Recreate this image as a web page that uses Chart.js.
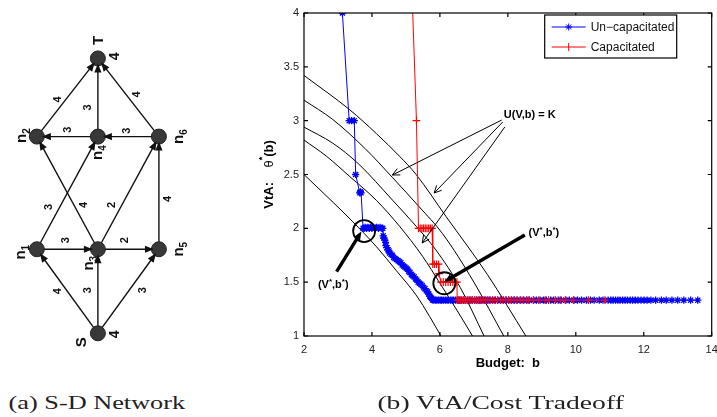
<!DOCTYPE html>
<html>
<head>
<meta charset="utf-8">
<script src="https://cdn.jsdelivr.net/npm/chart.js@4.4.1/dist/chart.umd.min.js"></script>
<style>
  html, body { margin: 0; padding: 0; background: #fff; width: 717px; height: 417px; overflow: hidden; }
  canvas { position: absolute; top: 0; }
  #net { left: 0; }
  #trade { left: 230px; }
  .cap { position: absolute; top: 392px; font-family: "Liberation Serif", serif; font-size: 19px; color: #222; white-space: nowrap; transform-origin: center; }
</style>
</head>
<body>
<canvas id="net" width="200" height="380"></canvas>
<canvas id="trade" width="487" height="417"></canvas>
<div class="cap" id="capA">(a) S-D Network</div>
<div class="cap" id="capB">(b) VtA/Cost Tradeoff</div>
<script>
// ---- (a) network: nodes on a column/row grid, directed edges with weights
const nodeNames = ['S', 'n1', 'n3', 'n5', 'n2', 'n4', 'n6', 'T'];
const nodeCol = [0, -1, 0, 1, -1, 0, 1, 0];
const nodeRow = [0, 1, 1, 1, 2.34, 2.34, 2.34, 3.27];
const nodeCapacity = { S: 4, T: 4 };
const edgeFrom = ['S', 'S', 'S', 'n1', 'n3', 'n1', 'n3', 'n3', 'n5', 'n4', 'n6', 'n2', 'n4', 'n6'];
const edgeTo = ['n1', 'n3', 'n5', 'n3', 'n5', 'n4', 'n2', 'n6', 'n6', 'n2', 'n4', 'T', 'T', 'T'];
const edgeWeight = [4, 3, 3, 3, 2, 3, 4, 2, 4, 3, 3, 4, 3, 4];

// ---- (b) VtA / budget tradeoff
const blueSeries = [
  [3.13, 4.0], [3.33, 3.0], [3.40, 3.0], [3.48, 3.0], [3.52, 2.5], [3.64, 2.33], [3.66, 2.34], [3.68, 2.33],
  [3.74, 2.0], [3.77, 2.0], [3.80, 2.01], [3.84, 2.0], [3.88, 2.01], [3.92, 2.0], [3.96, 2.01], [4.00, 2.0],
  [4.04, 2.01], [4.09, 2.0], [4.14, 2.01], [4.19, 2.0], [4.24, 2.01], [4.29, 2.0], [4.32, 2.0],
  [4.33, 1.93], [4.35, 1.91], [4.38, 1.89], [4.40, 1.87], [4.41, 1.84], [4.44, 1.82], [4.47, 1.80], [4.50, 1.79],
  [4.52, 1.77], [4.56, 1.76], [4.60, 1.75], [4.64, 1.73], [4.68, 1.72], [4.72, 1.71], [4.77, 1.70], [4.81, 1.69],
  [4.85, 1.68], [4.89, 1.66], [4.93, 1.65], [4.97, 1.64], [5.01, 1.63], [5.05, 1.62], [5.08, 1.60], [5.12, 1.59],
  [5.16, 1.57], [5.20, 1.56], [5.24, 1.55], [5.28, 1.53], [5.32, 1.52], [5.36, 1.50], [5.40, 1.49], [5.44, 1.48],
  [5.48, 1.47], [5.52, 1.45], [5.56, 1.44], [5.60, 1.42], [5.64, 1.41], [5.67, 1.39], [5.70, 1.37], [5.73, 1.36],
  [5.76, 1.35], [5.78, 1.335],
  [5.82, 1.333], [5.87, 1.333], [5.91, 1.333], [5.96, 1.333], [6.01, 1.333], [6.05, 1.333], [6.10, 1.333], [6.16, 1.333],
  [6.21, 1.333], [6.25, 1.333], [6.31, 1.333], [6.36, 1.333], [6.40, 1.333], [6.46, 1.333], [6.52, 1.333], [6.57, 1.333],
  [6.63, 1.333], [6.70, 1.333], [6.75, 1.333], [6.82, 1.333], [6.88, 1.333], [6.95, 1.333], [7.03, 1.333], [7.09, 1.333],
  [7.16, 1.333], [7.23, 1.333], [7.31, 1.333], [7.39, 1.333], [7.45, 1.333], [7.55, 1.333], [7.63, 1.333], [7.70, 1.333],
  [7.79, 1.333], [7.87, 1.333], [7.95, 1.333], [8.03, 1.333], [8.11, 1.333], [8.20, 1.333], [8.27, 1.333], [8.38, 1.333],
  [8.47, 1.333], [8.56, 1.333], [8.63, 1.333], [8.75, 1.333], [8.84, 1.333], [8.95, 1.333], [9.05, 1.333], [9.13, 1.333],
  [9.26, 1.333], [9.35, 1.333], [9.48, 1.333], [9.57, 1.333], [9.71, 1.333], [9.81, 1.333], [9.95, 1.333], [10.05, 1.333],
  [10.17, 1.333], [10.31, 1.333], [10.43, 1.333], [10.54, 1.333], [10.69, 1.333], [10.80, 1.333], [10.95, 1.333], [11.03, 1.333],
  [11.10, 1.333], [11.17, 1.333], [11.24, 1.333], [11.30, 1.333], [11.38, 1.333], [11.45, 1.333], [11.52, 1.333], [11.60, 1.333],
  [11.67, 1.333], [11.75, 1.333], [11.83, 1.333], [11.92, 1.333], [12.01, 1.333], [12.10, 1.333], [12.21, 1.333], [12.35, 1.333],
  [12.52, 1.333], [12.66, 1.333], [12.83, 1.333], [13.00, 1.333], [13.18, 1.333], [13.38, 1.333], [13.59, 1.333]
];
const redSeries = [
  [5.09, 5.0], [5.31, 3.0], [5.37, 2.0], [5.42, 2.0], [5.47, 2.0], [5.52, 2.0], [5.57, 2.0], [5.62, 2.0],
  [5.67, 2.0], [5.72, 2.0], [5.77, 2.0], [5.79, 1.667], [5.84, 1.667], [5.90, 1.667], [5.96, 1.667], [5.97, 1.58],
  [6.03, 1.5], [6.10, 1.5], [6.17, 1.5], [6.24, 1.5], [6.31, 1.5], [6.38, 1.5], [6.45, 1.5], [6.50, 1.5],
  [6.51, 1.333], [6.55, 1.333], [6.60, 1.333], [6.65, 1.333], [6.70, 1.333], [6.75, 1.333], [6.80, 1.333], [6.86, 1.333],
  [6.91, 1.333], [6.96, 1.333], [7.02, 1.333], [7.08, 1.333], [7.14, 1.333], [7.20, 1.333], [7.27, 1.333], [7.34, 1.333],
  [7.41, 1.333], [7.48, 1.333], [7.55, 1.333], [7.62, 1.333], [7.70, 1.333], [7.78, 1.333], [7.86, 1.333], [7.94, 1.333],
  [8.02, 1.333], [8.10, 1.333], [8.18, 1.333], [8.27, 1.333], [8.36, 1.333], [8.45, 1.333], [8.55, 1.333], [8.62, 1.333],
  [8.76, 1.333], [8.91, 1.333], [9.10, 1.333], [9.20, 1.333], [9.40, 1.333], [9.54, 1.333], [9.69, 1.333], [9.93, 1.333],
  [10.37, 1.333], [10.86, 1.333]
];
// indifference curves U(V,b) = K
const levelK1 = [[2.00, 2.50], [2.86, 2.24], [3.44, 2.06], [4.13, 1.83], [4.71, 1.61], [5.30, 1.38], [5.70, 1.18], [6.03, 1.00]];
const levelK2 = [[2.00, 2.82], [2.66, 2.67], [3.35, 2.48], [4.13, 2.26], [4.81, 2.02], [5.49, 1.74], [6.00, 1.49], [6.50, 1.24], [6.96, 1.00]];
const levelK3 = [[2.00, 2.94], [2.85, 2.79], [3.60, 2.60], [4.61, 2.26], [5.30, 2.02], [5.88, 1.80], [6.60, 1.45], [7.30, 1.00]];
const levelK4 = [[2.00, 3.19], [2.85, 3.01], [3.80, 2.74], [4.61, 2.47], [5.39, 2.20], [6.08, 1.95], [7.00, 1.50], [7.88, 1.00]];
const levelK5 = [[2.00, 3.42], [3.35, 3.10], [4.13, 2.88], [4.81, 2.67], [5.30, 2.50], [6.18, 2.11], [7.40, 1.57], [8.53, 1.00]];

// annotation anchors, in (budget, VtA) units
const levelNote = [7.88, 3.053];
const levelPointerFrom = [[7.82, 3.006], [7.85, 2.988], [7.91, 2.941]];
const levelPointerTo = [[4.60, 2.495], [5.83, 2.328], [5.48, 1.864]];
const optimumAt = [[3.77, 1.975], [6.13, 1.49]];
const optimumPointerFrom = [[2.96, 1.597], [8.50, 1.938]];
const optimumPointerTo = [[3.69, 1.97], [6.13, 1.504]];
const optimumNote = [[2.41, 1.474], [8.61, 1.957]];

// layout nudges for the network labels (px)
const edgeLabelShift = [[-9, 0], [-10, -1], [15, -1], [-1, -9], [-3, -9], [-18, 14], [17, 12], [-16, 12], [9, 6], [1, -7], [-1, -6], [-9, 2], [-10, 10], [9, -3]];
const nodeLabelShift = { S: [-17, 9], n1: [-16, 3], n3: [-9, 14], n5: [20, 0], n2: [-15, -1], n4: [0, 16], n6: [20, 0], T: [0, -18] };
const capLabelShift = { S: [17, 1], T: [17, -2] };

const SANS = '"Liberation Sans", Arial, sans-serif';
const idx = n => nodeNames.indexOf(n);
const nodePt = n => ({ x: nodeCol[idx(n)], y: nodeRow[idx(n)] });
const toXY = arr => arr.map(([b, v]) => ({ x: b, y: v }));

function rotText(ctx, s, cx, cy, font) {
  ctx.save();
  ctx.translate(cx, cy);
  ctx.rotate(-Math.PI / 2);
  ctx.font = font;
  ctx.textAlign = 'center';
  ctx.textBaseline = 'middle';
  ctx.fillText(s, 0, 0);
  ctx.restore();
}

function rotNodeLabel(ctx, name, cx, cy) {
  const main = name[0], sub = name.slice(1);
  ctx.save();
  ctx.translate(cx, cy);
  ctx.rotate(-Math.PI / 2);
  ctx.textAlign = 'left';
  ctx.textBaseline = 'alphabetic';
  ctx.font = 'bold 15px ' + SANS;
  const w1 = ctx.measureText(main).width;
  ctx.font = 'bold 10px ' + SANS;
  const w2 = sub ? ctx.measureText(sub).width : 0;
  const x0 = -(w1 + w2) / 2;
  ctx.font = 'bold 15px ' + SANS;
  ctx.fillText(main, x0, sub ? 4 : 5.5);
  if (sub) {
    ctx.font = 'bold 10px ' + SANS;
    ctx.fillText(sub, x0 + w1, 8);
  }
  ctx.restore();
}

const netExtras = {
  id: 'netExtras',
  afterDatasetsDraw(chart) {
    const { ctx, scales: { x, y } } = chart;
    const px = n => [x.getPixelForValue(nodeCol[idx(n)]), y.getPixelForValue(nodeRow[idx(n)])];
    ctx.save();
    ctx.fillStyle = '#111';
    edgeFrom.forEach((f, i) => {
      const [x0, y0] = px(f), [x1, y1] = px(edgeTo[i]);
      const len = Math.hypot(x1 - x0, y1 - y0), ux = (x1 - x0) / len, uy = (y1 - y0) / len;
      const tx = x1 - ux * 5, ty = y1 - uy * 5;
      const bx = tx - ux * 9, by = ty - uy * 9;
      ctx.beginPath();
      ctx.moveTo(tx, ty);
      ctx.lineTo(bx - uy * 3.6, by + ux * 3.6);
      ctx.lineTo(bx + uy * 3.6, by - ux * 3.6);
      ctx.closePath();
      ctx.fill();
      const [dx, dy] = edgeLabelShift[i];
      rotText(ctx, String(edgeWeight[i]), (x0 + x1) / 2 + dx, (y0 + y1) / 2 + dy, 'bold 11px ' + SANS);
    });
    nodeNames.forEach(n => {
      const [cx, cy] = px(n);
      const [dx, dy] = nodeLabelShift[n];
      rotNodeLabel(ctx, n, cx + dx, cy + dy);
      if (nodeCapacity[n] !== undefined) {
        const [ex, ey] = capLabelShift[n];
        rotText(ctx, String(nodeCapacity[n]), cx + ex, cy + ey, 'bold 14px ' + SANS);
      }
    });
    ctx.restore();
  }
};

new Chart(document.getElementById('net'), {
  type: 'scatter',
  data: {
    datasets: [
      {
        data: nodeNames.map(nodePt), pointRadius: 7.5, pointHoverRadius: 7.5,
        backgroundColor: '#383838', borderColor: '#222', borderWidth: 1, order: 0
      },
      ...edgeFrom.map((f, i) => ({
        data: [nodePt(f), nodePt(edgeTo[i])], showLine: true, pointRadius: 0,
        borderColor: '#111', borderWidth: 1.4, order: 1
      }))
    ]
  },
  options: {
    responsive: false, animation: false, devicePixelRatio: 1, events: [],
    layout: { padding: 0 },
    plugins: { legend: { display: false }, tooltip: { enabled: false } },
    scales: {
      x: { type: 'linear', min: -1.465, max: 1.534, display: false },
      y: { type: 'linear', min: -0.4545, max: 3.864, display: false }
    }
  },
  plugins: [netExtras]
});

function drawStar(ctx, x, y, r) {
  ctx.beginPath();
  for (let k = 0; k < 4; k++) {
    const a = k * Math.PI / 4;
    ctx.moveTo(x - Math.cos(a) * r, y - Math.sin(a) * r);
    ctx.lineTo(x + Math.cos(a) * r, y + Math.sin(a) * r);
  }
  ctx.stroke();
}

function drawRich(ctx, parts, x, y) {
  // parts: [text, font, raise]
  let cx = x;
  parts.forEach(([t, f, r]) => {
    ctx.font = f;
    ctx.fillText(t, cx, y - r);
    cx += ctx.measureText(t).width;
  });
}
function richWidth(ctx, parts) {
  return parts.reduce((w, [t, f]) => { ctx.font = f; return w + ctx.measureText(t).width; }, 0);
}

const tradeExtras = {
  id: 'tradeExtras',
  afterDatasetsDraw(chart) {
    const { ctx, chartArea: a, scales: { x, y } } = chart;
    const P = ([b, v]) => [x.getPixelForValue(b), y.getPixelForValue(v)];
    ctx.save();
    ctx.strokeStyle = '#000';
    ctx.fillStyle = '#000';

    // frame with inward ticks
    ctx.lineWidth = 1.2;
    ctx.strokeRect(a.left, a.top, a.right - a.left, a.bottom - a.top);
    ctx.beginPath();
    x.ticks.forEach(t => {
      const p = x.getPixelForValue(t.value);
      ctx.moveTo(p, a.bottom); ctx.lineTo(p, a.bottom - 4);
      ctx.moveTo(p, a.top); ctx.lineTo(p, a.top + 4);
    });
    y.ticks.forEach(t => {
      const p = y.getPixelForValue(t.value);
      ctx.moveTo(a.left, p); ctx.lineTo(a.left + 4, p);
      ctx.moveTo(a.right, p); ctx.lineTo(a.right - 4, p);
    });
    ctx.stroke();

    // thin pointers to the level curves
    ctx.lineWidth = 1;
    levelPointerFrom.forEach((f, i) => {
      const [x0, y0] = P(f), [x1, y1] = P(levelPointerTo[i]);
      const ang = Math.atan2(y1 - y0, x1 - x0);
      ctx.beginPath();
      ctx.moveTo(x0, y0); ctx.lineTo(x1, y1);
      ctx.moveTo(x1 - 8 * Math.cos(ang - 0.45), y1 - 8 * Math.sin(ang - 0.45));
      ctx.lineTo(x1, y1);
      ctx.lineTo(x1 - 8 * Math.cos(ang + 0.45), y1 - 8 * Math.sin(ang + 0.45));
      ctx.stroke();
    });
    ctx.font = 'bold 11px ' + SANS;
    ctx.textAlign = 'left';
    ctx.textBaseline = 'middle';
    const [nx, ny] = P(levelNote);
    ctx.fillText('U(V,b) = K', nx, ny);

    // optimum circles and thick pointers
    ctx.lineWidth = 1.8;
    optimumAt.forEach(c => {
      const [cx, cy] = P(c);
      ctx.beginPath(); ctx.arc(cx, cy, 11, 0, Math.PI * 2); ctx.stroke();
    });
    optimumPointerFrom.forEach((f, i) => {
      const [x0, y0] = P(f), [x1, y1] = P(optimumPointerTo[i]);
      const ang = Math.atan2(y1 - y0, x1 - x0);
      ctx.lineWidth = 3.4;
      ctx.beginPath();
      ctx.moveTo(x0, y0);
      ctx.lineTo(x1 - 6 * Math.cos(ang), y1 - 6 * Math.sin(ang));
      ctx.stroke();
      ctx.beginPath();
      ctx.moveTo(x1, y1);
      ctx.lineTo(x1 - 9 * Math.cos(ang - 0.4), y1 - 9 * Math.sin(ang - 0.4));
      ctx.lineTo(x1 - 9 * Math.cos(ang + 0.4), y1 - 9 * Math.sin(ang + 0.4));
      ctx.closePath();
      ctx.fill();
    });
    const vb = [['(V', 'bold 11px ' + SANS, 0], ['*', 'bold 8px ' + SANS, 3], [',b', 'bold 11px ' + SANS, 0], ['*', 'bold 8px ' + SANS, 3], [')', 'bold 11px ' + SANS, 0]];
    ctx.textBaseline = 'middle';
    optimumNote.forEach(n => {
      const [tx, ty] = P(n);
      drawRich(ctx, vb, tx, ty);
    });

    // legend box
    const lw = 132, lh = 43;
    const lx = a.right - 35 - lw, ly = a.top + 2;
    ctx.fillStyle = '#fff';
    ctx.fillRect(lx, ly, lw, lh);
    ctx.lineWidth = 1.2;
    ctx.strokeStyle = '#000';
    ctx.strokeRect(lx, ly, lw, lh);
    const items = [
      { text: 'Un\u2212capacitated', color: '#0000ff', star: true },
      { text: 'Capacitated', color: '#ff0000', star: false }
    ];
    items.forEach((it, i) => {
      const yy = ly + 12 + i * 20;
      ctx.strokeStyle = it.color;
      ctx.lineWidth = 1;
      ctx.beginPath(); ctx.moveTo(lx + 7, yy); ctx.lineTo(lx + 41, yy); ctx.stroke();
      if (it.star) drawStar(ctx, lx + 24, yy, 3.5);
      else { ctx.beginPath(); ctx.moveTo(lx + 24, yy - 4); ctx.lineTo(lx + 24, yy + 4); ctx.stroke(); }
      ctx.fillStyle = '#111';
      ctx.font = '12px ' + SANS;
      ctx.textAlign = 'left';
      ctx.textBaseline = 'middle';
      ctx.fillText(it.text, lx + 46, yy + 0.5);
    });

    // axis titles
    ctx.fillStyle = '#000';
    ctx.font = 'bold 13px ' + SANS;
    ctx.textAlign = 'center';
    ctx.textBaseline = 'middle';
    ctx.fillText('Budget:  b', (a.left + a.right) / 2, a.bottom + 27);
    const yt = [['VtA:', 'bold 13px ' + SANS, 0], ['    ', 'bold 13px ' + SANS, 0], ['\u03b8', '13px ' + SANS, 0], ['*', 'bold 9px ' + SANS, 6], ['(b)', 'bold 13px ' + SANS, 0]];
    ctx.save();
    ctx.translate(a.left - 35, (a.top + a.bottom) / 2);
    ctx.rotate(-Math.PI / 2);
    ctx.textAlign = 'left';
    drawRich(ctx, yt, -richWidth(ctx, yt) / 2, 0);
    ctx.restore();
    ctx.restore();
  }
};

const levelSets = [levelK1, levelK2, levelK3, levelK4, levelK5].map(l => ({
  data: toXY(l), showLine: true, pointRadius: 0, borderColor: '#000', borderWidth: 1,
  cubicInterpolationMode: 'monotone', order: 2
}));

new Chart(document.getElementById('trade'), {
  type: 'scatter',
  data: {
    datasets: [
      {
        label: 'Capacitated', data: toXY(redSeries), showLine: true, borderColor: '#ff0000', borderWidth: 1,
        pointStyle: 'cross', pointRadius: 3.8, pointBorderColor: '#ff0000', pointBorderWidth: 1.2, order: 0
      },
      {
        label: 'Un\u2212capacitated', data: toXY(blueSeries), showLine: true, borderColor: '#0000ff', borderWidth: 1,
        pointStyle: 'star', pointRadius: 3.6, pointBorderColor: '#0000ff', pointBorderWidth: 1.3, order: 1
      },
      ...levelSets
    ]
  },
  options: {
    responsive: false, animation: false, devicePixelRatio: 1, events: [],
    layout: { padding: { left: 0, top: 13, right: 3, bottom: 0 } },
    plugins: { legend: { display: false }, tooltip: { enabled: false } },
    scales: {
      x: {
        type: 'linear', min: 2, max: 14,
        grid: { display: false, drawTicks: false }, border: { display: false },
        ticks: { stepSize: 2, padding: 7, maxRotation: 0, color: '#222', font: { family: SANS, size: 11 }, callback: v => String(v) },
        afterFit: s => { s.height = 81; s.paddingLeft = 0; s.paddingRight = 0; }
      },
      y: {
        type: 'linear', min: 1, max: 4,
        grid: { display: false, drawTicks: false }, border: { display: false },
        ticks: { stepSize: 0.5, padding: 5, color: '#222', font: { family: SANS, size: 11 }, callback: v => String(v) },
        afterFit: s => { s.width = 74; s.paddingTop = 0; s.paddingBottom = 0; }
      }
    }
  },
  plugins: [tradeExtras]
});

// captions: stretch to the reference width
[['capA', 96.5, 177], ['capB', 500, 246]].forEach(([id, cx, w]) => {
  const el = document.getElementById(id);
  const k = w / el.offsetWidth;
  el.style.left = (cx - el.offsetWidth / 2) + 'px';
  el.style.transform = 'scaleX(' + k.toFixed(3) + ')';
});
</script>
</body>
</html>
